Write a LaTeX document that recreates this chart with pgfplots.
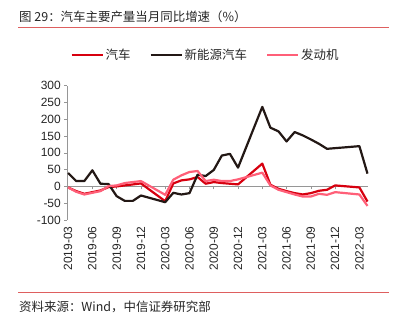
\documentclass[border=0pt]{standalone}
\usepackage{pgfplots}
\pgfplotsset{compat=1.18}
\usepackage{fontspec}
\setmainfont{Liberation Sans}
\newfontfamily\cjk{Noto Sans CJK SC}
\definecolor{carred}{RGB}{215,0,15}
\definecolor{nevblack}{RGB}{35,24,21}
\definecolor{engpink}{RGB}{255,95,120}
\definecolor{ruleline}{RGB}{222,95,95}
\definecolor{axgray}{RGB}{150,150,150}
\begin{document}
\begin{tikzpicture}
\path[use as bounding box] (0bp,0bp) rectangle (401bp,-321bp);

% zero line with ticks
\begin{axis}[at={(67.3bp,-220bp)}, anchor=south west, scale only axis,
  width=301bp, height=134.3bp, xmin=-0.1, xmax=37.1, ymin=-100, ymax=300,
  axis x line=middle, axis y line=none,
  xtick={0,3,...,36}, xticklabels={}, ytick=\empty,
  tick align=outside, major tick length=3bp,
  axis line style={-, axgray, line width=0.6bp},
  xtick style={axgray, line width=0.6bp}]
\end{axis}

\begin{axis}[at={(67.3bp,-220bp)}, anchor=south west, scale only axis,
  width=301bp, height=134.3bp, xmin=-0.1, xmax=37.1, ymin=-100, ymax=300,
  axis lines*=left,
  x axis line style={draw=none},
  y axis line style={axgray, line width=0.6bp},
  xtick={0,3,...,36},
  xticklabels={2019-03,2019-06,2019-09,2019-12,2020-03,2020-06,2020-09,2020-12,2021-03,2021-06,2021-09,2021-12,2022-03},
  xtick style={draw=none},
  ytick={-100,-50,...,300},
  ytick style={axgray, line width=0.6bp},
  tick align=outside, major tick length=3bp,
  /pgf/number format/assume math mode=true,
  yticklabel style={font=\fontsize{12}{14}\selectfont, text=black!85},
  xticklabel style={font=\fontsize{12}{14}\selectfont, text=black!85, rotate=90, anchor=east},
  legend style={at={(0.459,1.229)}, anchor=center, draw=none, fill=none,
    font=\cjk\fontsize{12.5}{14}\selectfont, text=black!85,
    /tikz/every even column/.append style={column sep=17bp}},
  legend columns=3,
  legend image code/.code={\draw[#1] (0bp,0bp) -- (31bp,0bp);},
  every axis plot/.append style={line width=2.2bp, line join=round, mark=none}]
\addplot[carred] coordinates {
(0,-3)(1,-14)(2,-22)(3,-17)(4,-12)(5,-2)(6,0)(7,3)(8,6)(9,9)
(12,-44)(13,9)(14,18)(15,21)(16,28)(17,8)(18,13)(19,10)(20,8)(21,6)
(24,68)(25,5)(26,-7)(27,-14)(28,-20)(29,-24)(30,-20)(31,-13)(32,-10)(33,3)
(36,-3)(37,-45)};
\addlegendentry{汽车}
\addplot[nevblack] coordinates {
(0,40)(1,16)(2,16)(3,48)(4,8)(5,7)(6,-29)(7,-43)(8,-43)(9,-27)
(12,-47)(13,-19)(14,-24)(15,-20)(16,35)(17,31)(18,49)(19,92)(20,97)(21,56)
(24,237)(25,175)(26,164)(27,134)(28,162)(29,152)(30,140)(31,127)(32,112)(33,114)
(36,120)(37,38)};
\addlegendentry{新能源汽车}
\addplot[engpink] coordinates {
(0,-3)(1,-16)(2,-24)(3,-19)(4,-14)(5,1)(6,3)(7,10)(8,13)(9,16)
(12,-25)(13,20)(14,33)(15,43)(16,46)(17,16)(18,20)(19,16)(20,16)(21,21)
(24,41)(25,3)(26,-10)(27,-17)(28,-24)(29,-30)(30,-30)(31,-22)(32,-25)(33,-17)
(36,-24)(37,-58)};
\addlegendentry{发动机}
\end{axis}

\node[anchor=west, inner sep=0, font=\cjk\fontsize{12.5}{14}\selectfont, text=black!85] at (19bp,-16.5bp) {图 29：汽车主要产量当月同比增速（\%）};
\draw[ruleline, line width=1.4bp] (18bp,-27.5bp) -- (389bp,-27.5bp);
\node[anchor=north west, inner sep=0, outer sep=0] at (18bp,-26.8bp) {\textcolor{ruleline}{\rule{371bp}{1.3bp}}};
\draw[ruleline, line width=1.1bp] (18bp,-292.5bp) -- (389bp,-292.5bp);
\node[anchor=west, inner sep=0, font=\cjk\fontsize{12.5}{14}\selectfont, text=black!85] at (19bp,-307bp) {资料来源：Wind，中信证券研究部};
\end{tikzpicture}
\end{document}
